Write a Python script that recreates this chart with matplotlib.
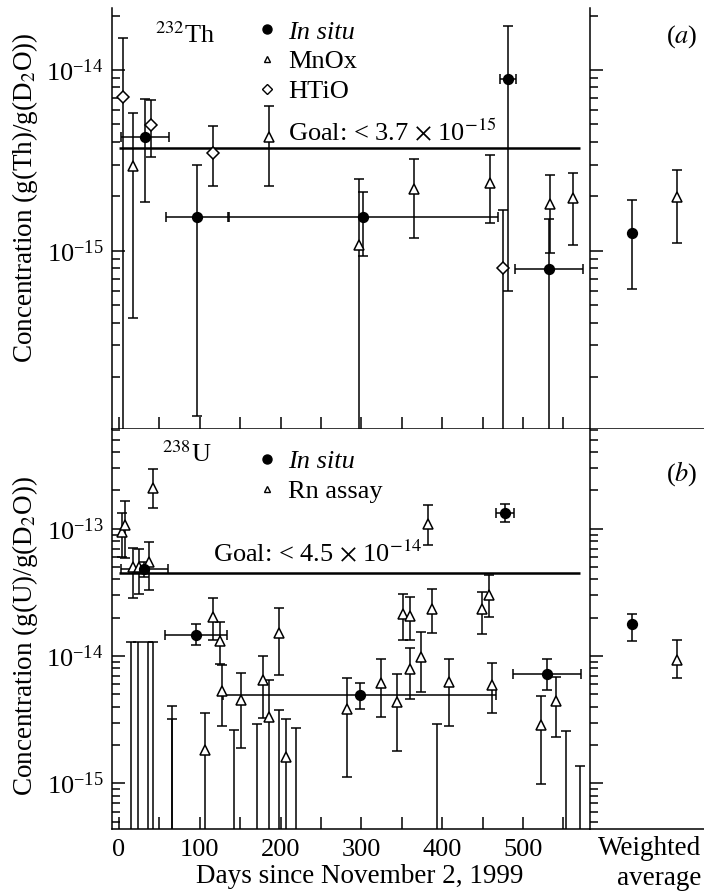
import matplotlib
matplotlib.use("Agg")
import numpy as np
import matplotlib.pyplot as plt
from matplotlib.lines import Line2D
from matplotlib.ticker import (FixedLocator, LogLocator, MultipleLocator, NullFormatter,
                               NullLocator, LogFormatterMathtext)

plt.rcParams['font.family'] = ['Liberation Serif', 'DejaVu Serif']
plt.rcParams['mathtext.fontset'] = 'stix'

# ---- (a) 232Th ----
th_insitu_days = [32, 96.5, 302, 481, 532.6]
th_insitu_xerr = [29.5, 38.3, 166.5, 10, 42]
th_insitu_val = [4.27e-15, 1.54e-15, 1.54e-15, 8.88e-15, 7.9e-16]
th_insitu_hi = [6.9e-15, 3.0e-15, 2.12e-15, 1.76e-14, 1.49e-15]
th_insitu_lo = [1.85e-15, 1.22e-16, 9.3e-16, 6.0e-16, 1e-17]

th_mnox_days = [17, 185.6, 297, 365, 459, 534, 561.5]
th_mnox_val = [2.94e-15, 4.27e-15, 1.08e-15, 2.21e-15, 2.38e-15, 1.81e-15, 1.95e-15]
th_mnox_hi = [5.75e-15, 6.32e-15, 2.49e-15, 3.2e-15, 3.39e-15, 2.62e-15, 2.7e-15]
th_mnox_lo = [4.23e-16, 2.28e-15, 1e-17, 1.18e-15, 1.42e-15, 9.68e-16, 1.08e-15]

th_htio_days = [4.6, 39.6, 116, 475]
th_htio_val = [7.06e-15, 4.97e-15, 3.46e-15, 8.05e-16]
th_htio_hi = [1.51e-14, 6.82e-15, 4.92e-15, 1.69e-15]
th_htio_lo = [1e-17, 3.29e-15, 2.28e-15, 1e-17]

th_goal = 3.7e-15
# weighted averages: in situ, MnOx
th_avg_val = [1.26e-15, 1.99e-15]
th_avg_hi = [1.91e-15, 2.8e-15]
th_avg_lo = [6.17e-16, 1.11e-15]

# ---- (b) 238U ----
u_insitu_days = [31, 95, 298, 478, 530]
u_insitu_xerr = [29, 38.5, 169, 11, 42]
u_insitu_val = [4.83e-14, 1.46e-14, 4.93e-15, 1.34e-13, 7.21e-15]
u_insitu_hi = [5.5e-14, 1.79e-14, 6.1e-15, 1.56e-13, 9.46e-15]
u_insitu_lo = [4.2e-14, 1.22e-14, 3.85e-15, 1.14e-13, 5.4e-15]

u_rn_days = [3.3, 7.4, 17, 25, 37, 42.5, 106.4, 116, 125, 127.5, 151.4, 178.6, 186,
             198.4, 206.7, 282.6, 323.8, 344, 351.5, 360, 360, 373.8, 383, 387, 409,
             449, 458, 462, 522, 541]
u_rn_val = [9.49e-14, 1.08e-13, 5.03e-14, 5.03e-14, 5.52e-14, 2.08e-13, 1.82e-15, 2.04e-14,
            1.32e-14, 5.33e-15, 4.51e-15, 6.47e-15, 3.33e-15, 1.52e-14, 1.61e-15, 3.81e-15,
            6.17e-15, 4.38e-15, 2.14e-14, 2.06e-14, 7.85e-15, 9.86e-15, 1.1e-13, 2.35e-14,
            6.28e-15, 2.33e-14, 3.02e-14, 5.91e-15, 2.86e-15, 4.43e-15]
u_rn_hi = [1.32e-13, 1.66e-13, 7.03e-14, 6.95e-14, 7.92e-14, 2.94e-13, 3.58e-15, 2.84e-14,
           1.86e-14, 8.49e-15, 7.31e-15, 1.0e-14, 6.47e-15, 2.4e-14, 3.2e-15, 6.68e-15,
           9.46e-15, 7.18e-15, 3.05e-14, 2.92e-14, 1.16e-14, 1.55e-14, 1.54e-13, 3.34e-14,
           9.46e-15, 3.21e-14, 4.34e-14, 8.85e-15, 4.85e-15, 6.8e-15]
u_rn_lo = [6.03e-14, 5.86e-14, 2.87e-14, 3.07e-14, 3.3e-14, 1.46e-13, 1e-17, 1.34e-14,
           8.6e-15, 2.83e-15, 1.88e-15, 3.27e-15, 1e-17, 7.1e-15, 1e-17, 1.12e-15,
           3.33e-15, 1.79e-15, 1.34e-14, 1.34e-14, 4.61e-15, 5.21e-15, 7.46e-14, 1.52e-14,
           2.82e-15, 1.49e-14, 2.04e-14, 3.54e-15, 9.86e-16, 2.32e-15]

# Rn assay upper limits (no central value)
u_lim_days = [14.5, 23, 35.5, 41.6, 66, 66, 142, 170.4, 198.4, 219, 394, 553, 571]
u_lim_val = [1.28e-14, 1.28e-14, 1.28e-14, 1.28e-14, 4.05e-15, 3.2e-15, 2.62e-15,
             2.92e-15, 3.76e-15, 2.7e-15, 2.94e-15, 2.59e-15, 1.37e-15]

u_goal = 4.5e-14
u_avg_val = [1.79e-14, 9.31e-15]
u_avg_hi = [2.13e-14, 1.34e-14]
u_avg_lo = [1.32e-14, 6.68e-15]

avg_pos = [0, 1]

FS = 19


def draw(ax, x, val, lo, hi, marker, mfc, ms, xerr=None):
    val = np.array(val)
    yerr = [val - np.array(lo), np.array(hi) - val]
    ax.errorbar(x, val, yerr=yerr, xerr=xerr, fmt=marker, mfc=mfc, mec='black',
                ecolor='black', elinewidth=1.1, capsize=3.6, capthick=1.1,
                ms=ms, mew=1.1, zorder=3)


def style(ax):
    for s in ['top', 'right']:
        ax.spines[s].set_visible(False)
    for s in ax.spines.values():
        s.set_linewidth(1.1)
    ax.tick_params(which='both', direction='in', width=1.1, labelsize=FS)
    ax.tick_params(which='major', length=9)
    ax.tick_params(which='minor', length=6)


fig = plt.figure(figsize=(7.04, 8.92), dpi=100)
ax_th = fig.add_axes([0.1591, 0.5187, 0.679, 0.4723])
ax_thw = fig.add_axes([0.8381, 0.5187, 0.1619, 0.4723])
ax_u = fig.add_axes([0.1591, 0.0703, 0.679, 0.4484])
ax_uw = fig.add_axes([0.8381, 0.0703, 0.1619, 0.4484])

# top panel
draw(ax_th, th_htio_days, th_htio_val, th_htio_lo, th_htio_hi, 'D', 'white', 6)
draw(ax_th, th_mnox_days, th_mnox_val, th_mnox_lo, th_mnox_hi, '^', 'white', 6.5)
draw(ax_th, th_insitu_days, th_insitu_val, th_insitu_lo, th_insitu_hi, 'o', 'black', 7,
     xerr=th_insitu_xerr)
ax_th.hlines(th_goal, 0, 570, color='black', lw=1.8)
ax_th.text(0.368, 0.687, r'Goal: < 3.7 $\times$ 10$^{-15}$', transform=ax_th.transAxes,
           fontsize=FS, va='baseline')
ax_th.text(0.09, 0.917, r'$^{232}$Th', transform=ax_th.transAxes, fontsize=FS, va='baseline')

draw(ax_thw, avg_pos[:1], th_avg_val[:1], th_avg_lo[:1], th_avg_hi[:1], 'o', 'black', 7)
draw(ax_thw, avg_pos[1:], th_avg_val[1:], th_avg_lo[1:], th_avg_hi[1:], '^', 'white', 6.5)
ax_thw.text(0.947, 0.919, r'($\it{a}$)', transform=ax_thw.transAxes, fontsize=FS,
            va='baseline', ha='right')

# bottom panel
draw(ax_u, u_rn_days, u_rn_val, u_rn_lo, u_rn_hi, '^', 'white', 6.5)
lim_val = np.array(u_lim_val)
ax_u.errorbar(u_lim_days, lim_val, yerr=[lim_val - 1e-17, np.zeros_like(lim_val)],
              fmt='none', ecolor='black', elinewidth=1.1, capsize=3.6, capthick=1.1)
draw(ax_u, u_insitu_days, u_insitu_val, u_insitu_lo, u_insitu_hi, 'o', 'black', 7,
     xerr=u_insitu_xerr)
ax_u.hlines(u_goal, 0, 570, color='black', lw=1.8)
ax_u.text(0.211, 0.671, r'Goal: < 4.5 $\times$ 10$^{-14}$', transform=ax_u.transAxes,
          fontsize=FS, va='baseline')
ax_u.text(0.105, 0.918, r'$^{238}$U', transform=ax_u.transAxes, fontsize=FS, va='baseline')

draw(ax_uw, avg_pos[:1], u_avg_val[:1], u_avg_lo[:1], u_avg_hi[:1], 'o', 'black', 7)
draw(ax_uw, avg_pos[1:], u_avg_val[1:], u_avg_lo[1:], u_avg_hi[1:], '^', 'white', 6.5)
ax_uw.text(0.947, 0.871, r'($\it{b}$)', transform=ax_uw.transAxes, fontsize=FS,
           va='baseline', ha='right')

# scales and limits
for ax, lims, majors in [(ax_th, (1.03e-16, 2.2e-14), [1e-15, 1e-14]),
                         (ax_thw, (1.03e-16, 2.2e-14), [1e-15, 1e-14]),
                         (ax_u, (4.35e-16, 6.05e-13), [1e-15, 1e-14, 1e-13]),
                         (ax_uw, (4.35e-16, 6.05e-13), [1e-15, 1e-14, 1e-13])]:
    ax.set_yscale('log')
    ax.set_ylim(*lims)
    ax.yaxis.set_major_locator(FixedLocator(majors))
    ax.yaxis.set_minor_locator(LogLocator(base=10, subs=np.arange(2, 10)))
    ax.yaxis.set_minor_formatter(NullFormatter())

for ax in [ax_th, ax_u]:
    style(ax)
    ax.set_xlim(-8.7, 583)
    ax.xaxis.set_major_locator(MultipleLocator(100))
    ax.xaxis.set_minor_locator(MultipleLocator(50))
    ax.tick_params(which='minor', axis='x', length=9)
    ax.tick_params(axis='x', pad=7)
    ax.tick_params(axis='y', pad=6)
    ax.yaxis.set_major_formatter(LogFormatterMathtext())
ax_th.tick_params(axis='x', labelbottom=False)

for ax in [ax_thw, ax_uw]:
    style(ax)
    ax.set_xlim(-0.933, 1.6)
    ax.xaxis.set_major_locator(NullLocator())
    ax.tick_params(axis='y', labelleft=False)

# legends
h_in = Line2D([], [], marker='o', ls='none', color='black', ms=6.5)
h_mn = Line2D([], [], marker='^', ls='none', mfc='white', mec='black', ms=5, mew=1.0)
h_ht = Line2D([], [], marker='D', ls='none', mfc='white', mec='black', ms=5.5, mew=1.0)
h_rn = Line2D([], [], marker='^', ls='none', mfc='white', mec='black', ms=5, mew=1.0)

leg = ax_th.legend([h_in, h_mn, h_ht], ['In situ', 'MnOx', 'HTiO'], loc='upper left',
                   bbox_to_anchor=(0.3075, 0.9715), frameon=False, fontsize=FS,
                   handlelength=0.6, handletextpad=0.5, labelspacing=0.24,
                   borderpad=0, borderaxespad=0)
leg.get_texts()[0].set_fontstyle('italic')
leg = ax_u.legend([h_in, h_rn], ['In situ', 'Rn assay'], loc='upper left',
                  bbox_to_anchor=(0.3075, 0.95), frameon=False, fontsize=FS,
                  handlelength=0.6, handletextpad=0.5, labelspacing=0.26,
                  borderpad=0, borderaxespad=0)
leg.get_texts()[0].set_fontstyle('italic')

# axis labels
fig.text(25 / 704, 1 - 198 / 892, r'Concentration (g(Th)/g(D$_2$O))', rotation=90,
         fontsize=19.5, ha='center', va='center')
fig.text(25 / 704, 1 - 636 / 892, r'Concentration (g(U)/g(D$_2$O))', rotation=90,
         fontsize=19.5, ha='center', va='center')
fig.text(360 / 704, 1 - 883 / 892, 'Days since November 2, 1999', fontsize=19.5,
         ha='center', va='baseline')
fig.text(701 / 704, 1 - 855 / 892, 'Weighted', fontsize=19.5, ha='right', va='baseline')
fig.text(701 / 704, 1 - 885 / 892, 'average', fontsize=19.5, ha='right', va='baseline')

fig.savefig('out.png', dpi=100)
